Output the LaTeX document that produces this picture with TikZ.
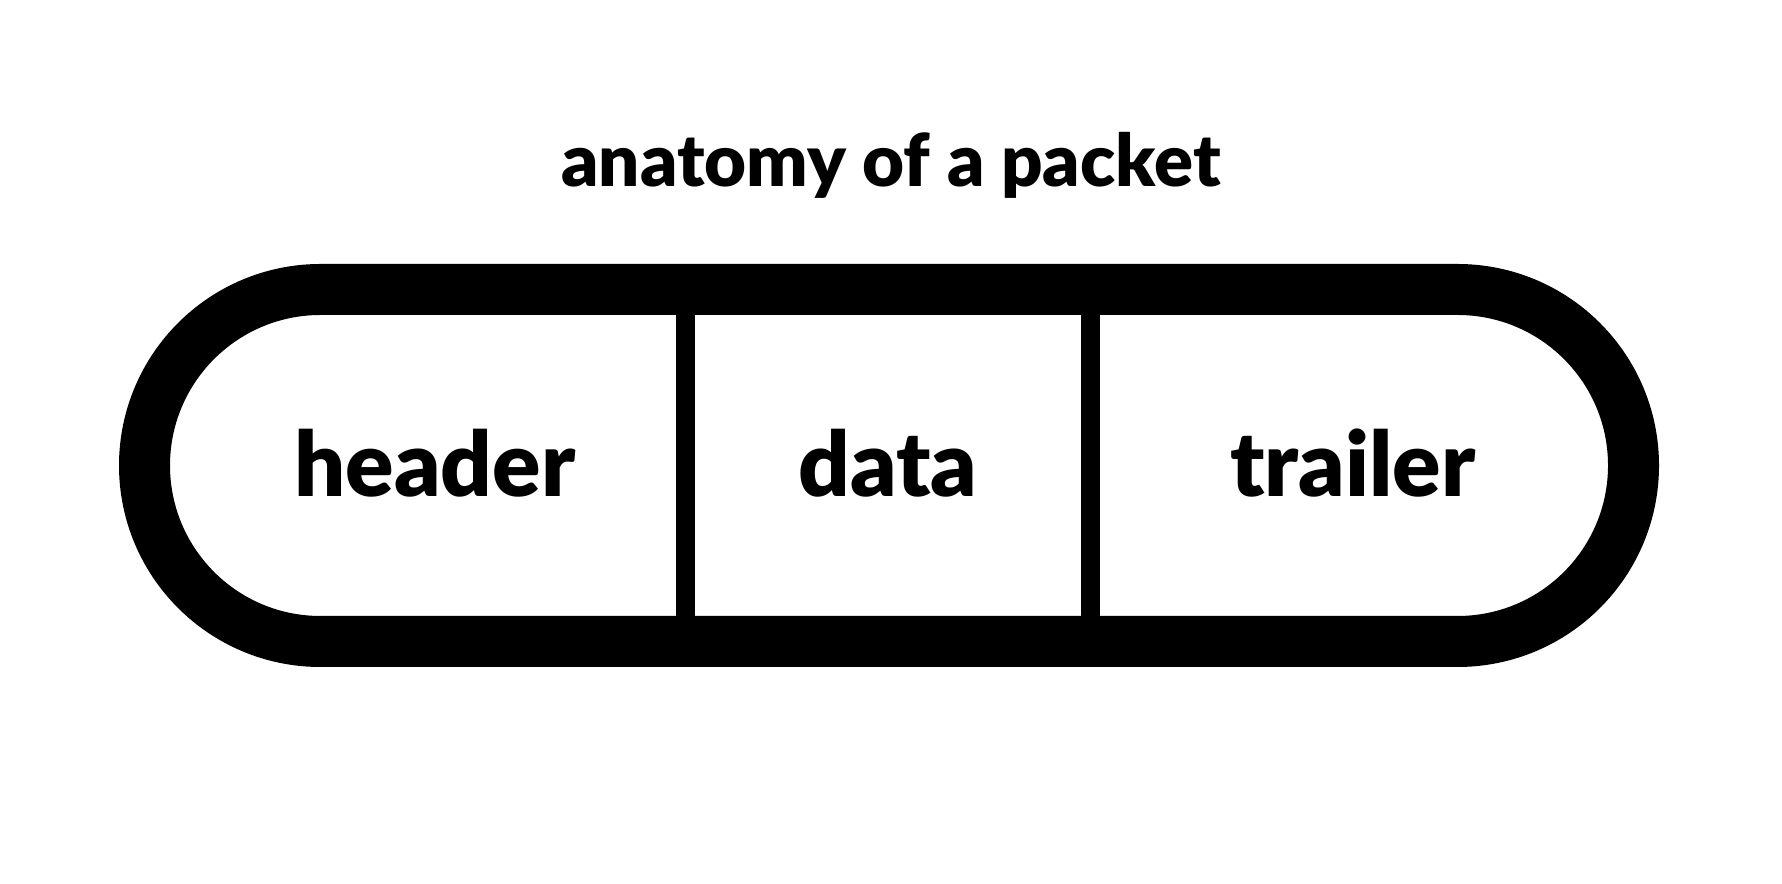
\documentclass[tikz,border=0pt]{standalone}
\usepackage{fontspec}
\setmainfont{Lato}[BoldFont={Lato Black}]
\usepackage{tikz}

\begin{document}
\begin{tikzpicture}[
		label/.style={font=\fontsize{25.6}{30}\selectfont\bfseries, anchor=base},
		heading/.style={font=\fontsize{20.6}{24}\selectfont\bfseries, anchor=base}
	]
		\useasboundingbox (0,0) rectangle (17.82,8.84);
		% outline of the packet
		\draw[line width=0.51cm, rounded corners=1.76cm] (1.445,2.425) rectangle (16.335,5.945);
		% dividers between the parts
		\foreach \x/\n in {6.85/a, 10.90/b} {
			\coordinate (top\n) at (\x, 5.69);
			\coordinate (bot\n) at (\x, 2.68);
			\draw[line width=0.19cm] (top\n) -- (bot\n);
		}
		\node[heading] (title) at (8.91, 6.97) {anatomy of a packet};
		\node[label] (header) at (4.35, 3.87) {header};
		\node[label] (data) at (8.88, 3.87) {data};
		\node[label] (trailer) at (13.53, 3.87) {trailer};
	\end{tikzpicture}
\end{document}
